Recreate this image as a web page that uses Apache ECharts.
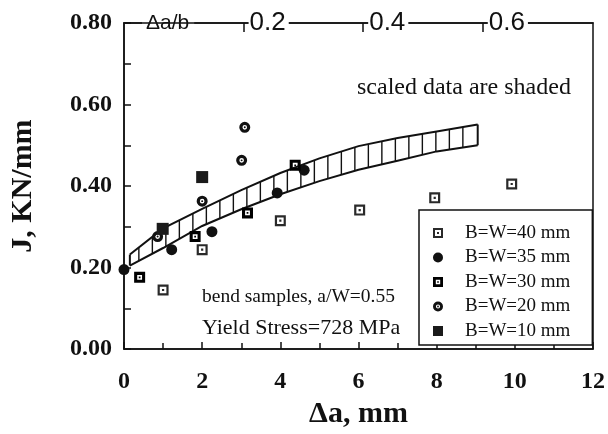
<!DOCTYPE html>
<html lang="en">
<head>
<meta charset="UTF-8">
<title>J - delta a</title>
<script src="https://cdn.jsdelivr.net/npm/echarts@6/dist/echarts.min.js"></script>
<style>
    *{
        padding: 0;
        margin: 0;
    }
    html, body{
        width: 100%;
        height: 100%;
        background: #fff;
    }
    .echarts{
        width: 608px;
        height: 434px;
    }
</style>
</head>
<body>
<div class="echarts"></div>
<script>
// points: [delta a (mm), J (KN/mm)]
let bw40 = [[1.0, 0.145], [2.0, 0.244], [4.0, 0.315], [6.03, 0.341], [7.95, 0.371], [9.92, 0.405]];
let bw35 = [[0, 0.195], [1.22, 0.244], [2.25, 0.288], [3.92, 0.383], [4.61, 0.439]];
let bw30 = [[0.4, 0.176], [1.82, 0.276], [3.16, 0.334], [4.38, 0.451]];
let bw20 = [[0.86, 0.276], [2.0, 0.363], [3.01, 0.463], [3.09, 0.544]];
let bw10 = [[0.99, 0.295], [2.0, 0.422]];

// shaded band of scaled data
let bandX = [0.15, 1, 2, 3, 4, 5, 6, 7, 8, 9.05];
let bandUpper = [0.232, 0.296, 0.344, 0.390, 0.432, 0.468, 0.498, 0.518, 0.534, 0.551];
let bandLower = [0.205, 0.248, 0.302, 0.343, 0.380, 0.412, 0.440, 0.462, 0.485, 0.500];

let names = ['B=W=40 mm', 'B=W=35 mm', 'B=W=30 mm', 'B=W=20 mm', 'B=W=10 mm'];
let topTicks = [0.2, 0.4, 0.6];   // delta a / b
let bLig = 15.3;                  // ligament, mm (top axis scale)

let ink = '#111';
let serif = 'Liberation Serif';

let sq40 = 'path://M0,0H10V10H0Z M2,2V8H8V2Z M4,4H6V6H4Z';
let sq30 = 'path://M0,0H10V10H0Z M2.8,2.8V7.2H7.2V2.8Z M4.2,4.2H5.8V5.8H4.2Z';
let sq10 = 'path://M0,0H10V10H0Z';
let ring20 = 'path://M5,0A5,5 0 1,1 5,10A5,5 0 1,1 5,0Z M5,2.9A2.1,2.1 0 1,0 5,7.1A2.1,2.1 0 1,0 5,2.9Z M5,4.1A0.9,0.9 0 1,1 5,5.9A0.9,0.9 0 1,1 5,4.1Z';

function yAt(pts, px) {
    for (let i = 1; i < pts.length; i++) {
        if (px <= pts[i][0]) {
            let t = (px - pts[i - 1][0]) / (pts[i][0] - pts[i - 1][0]);
            return pts[i - 1][1] + t * (pts[i][1] - pts[i - 1][1]);
        }
    }
    return pts[pts.length - 1][1];
}

function renderBand(params, api) {
    if (params.dataIndex > 0) return;
    let up = bandX.map((x, i) => api.coord([x, bandUpper[i]]));
    let lo = bandX.map((x, i) => api.coord([x, bandLower[i]]));
    let children = [];
    let x0 = up[0][0], x1 = up[up.length - 1][0];
    for (let px = x0 + 9; px < x1 - 3; px += 13.5) {
        children.push({
            type: 'line',
            shape: {x1: px, y1: yAt(up, px), x2: px, y2: yAt(lo, px)},
            style: {stroke: ink, lineWidth: 1.4}
        });
    }
    children.push({type: 'polyline', shape: {points: up}, style: {stroke: ink, lineWidth: 2, fill: null}});
    children.push({type: 'polyline', shape: {points: lo}, style: {stroke: ink, lineWidth: 2, fill: null}});
    children.push({type: 'line', shape: {x1: x0, y1: up[0][1], x2: x0, y2: lo[0][1]}, style: {stroke: ink, lineWidth: 2}});
    children.push({type: 'line', shape: {x1: x1, y1: up[up.length - 1][1], x2: x1, y2: lo[lo.length - 1][1]}, style: {stroke: ink, lineWidth: 2}});
    return {type: 'group', children: children};
}

window.onload = function () {
    let myCharts = echarts.init(document.querySelector('.echarts'));
    let tickLine = {color: ink, width: 1.5};

    let option = {
        backgroundColor: '#fff',
        animation: false,
        grid: {left: 124, right: 10, top: 23, bottom: 82, show: true, borderColor: ink, borderWidth: 1.5},
        legend: {
            data: names,
            orient: 'vertical',
            left: 419,
            top: 210,
            padding: [13, 22, 4, 14],
            itemWidth: 30,
            itemHeight: 10,
            itemGap: 4.5,
            borderColor: ink,
            borderWidth: 1.5,
            backgroundColor: '#fff',
            selectedMode: false,
            textStyle: {fontFamily: serif, fontSize: 19, color: ink, lineHeight: 20, padding: [0, 0, 0, 7]}
        },
        xAxis: [{
            type: 'value',
            position: 'bottom',
            min: 0,
            max: 12,
            interval: 2,
            axisLine: {show: true, lineStyle: tickLine},
            axisTick: {show: true, inside: true, length: 7, lineStyle: tickLine},
            minorTick: {show: true, splitNumber: 2, length: 6, lineStyle: tickLine},
            splitLine: {show: false},
            axisLabel: {fontFamily: serif, fontWeight: 'bold', fontSize: 24, color: ink, margin: 21},
            name: 'Δa, mm',
            nameLocation: 'middle',
            nameGap: 45,
            nameTextStyle: {fontFamily: serif, fontWeight: 'bold', fontSize: 30, color: ink}
        }, {
            type: 'value',
            position: 'top',
            min: 0,
            max: 12 / bLig,
            axisLine: {show: true, lineStyle: tickLine},
            axisTick: {show: true, inside: true, length: 9, lineStyle: tickLine, customValues: topTicks},
            splitLine: {show: false},
            axisLabel: {
                customValues: topTicks,
                margin: 0,
                verticalAlign: 'middle',
                align: 'left',
                formatter: v => '{g|}{v|' + v.toFixed(1) + '}',
                rich: {
                    g: {width: 5},
                    v: {backgroundColor: '#fff', padding: [2, 3, 2, 1], fontFamily: 'Liberation Sans', fontSize: 26, color: ink}
                }
            },
            name: 'Δa/b',
            nameLocation: 'start',
            nameGap: -18,
            nameTextStyle: {
                align: 'left', verticalAlign: 'middle', backgroundColor: '#fff', padding: [0, 5, 5, 4],
                fontFamily: 'Liberation Sans', fontSize: 21, color: ink
            }
        }],
        yAxis: {
            type: 'value',
            min: 0,
            max: 0.8,
            interval: 0.2,
            axisLine: {show: true, lineStyle: tickLine},
            axisTick: {show: true, inside: true, length: 7, lineStyle: tickLine},
            minorTick: {show: true, splitNumber: 2, length: 7, lineStyle: tickLine},
            splitLine: {show: false},
            axisLabel: {fontFamily: serif, fontWeight: 'bold', fontSize: 24, color: ink, margin: 12, formatter: v => v.toFixed(2)},
            name: 'J, KN/mm',
            nameLocation: 'middle',
            nameRotate: 90,
            nameGap: 86,
            nameTextStyle: {fontFamily: serif, fontWeight: 'bold', fontSize: 30, color: ink}
        },
        graphic: [
            {type: 'text', x: 357, y: 88, style: {text: 'scaled data are shaded', font: '24px "Liberation Serif"', fill: ink, verticalAlign: 'middle'}},
            {type: 'text', x: 202, y: 297, style: {text: 'bend samples, a/W=0.55', font: '19.5px "Liberation Serif"', fill: ink, verticalAlign: 'middle'}},
            {type: 'text', x: 202, y: 328, style: {text: 'Yield Stress=728 MPa', font: '22px "Liberation Serif"', fill: ink, verticalAlign: 'middle'}}
        ],
        series: [{
            type: 'custom',
            name: 'scaled',
            renderItem: renderBand,
            data: [[0, 0]],
            silent: true,
            z: 1
        }, {
            name: names[0], type: 'scatter', data: bw40, symbol: sq40, symbolSize: 11,
            itemStyle: {color: '#2a2a2a', opacity: 1}, z: 3
        }, {
            name: names[1], type: 'scatter', data: bw35, symbol: 'circle', symbolSize: 11,
            itemStyle: {color: ink, opacity: 1}, z: 3, clip: false
        }, {
            name: names[2], type: 'scatter', data: bw30, symbol: sq30, symbolSize: 11,
            itemStyle: {color: '#000', opacity: 1}, z: 3
        }, {
            name: names[3], type: 'scatter', data: bw20, symbol: ring20, symbolSize: 11,
            itemStyle: {color: ink, opacity: 1}, z: 3
        }, {
            name: names[4], type: 'scatter', data: bw10, symbol: sq10, symbolSize: 12,
            itemStyle: {color: '#1a1a1a', opacity: 1}, z: 3
        }]
    };
    myCharts.setOption(option);
};
</script>
</body>
</html>
